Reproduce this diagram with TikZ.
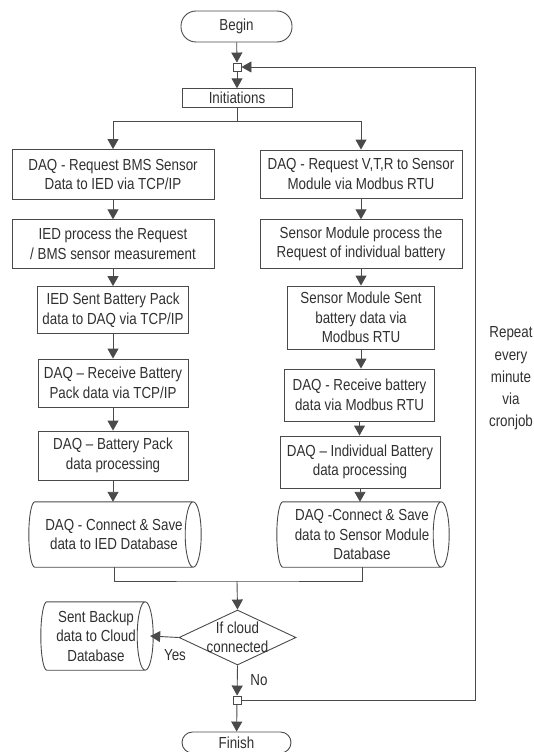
\documentclass[tikz,border=0pt]{standalone}
\usepackage{fontspec}
\setmainfont[FakeStretch=0.835]{Liberation Sans}
\usetikzlibrary{shapes.geometric,arrows.meta,calc}

\definecolor{txt}{HTML}{303030}
\definecolor{ln}{HTML}{4a4a4a}

% outline of a horizontal storage drum around a node
\newcommand\drumoutline[1]{%
  \draw[line] let \p1=(#1.north east), \p2=(#1.south east), \n1={(\y1-\y2)/2} in
    (#1.north west) -- (#1.north east)
    arc[start angle=90, end angle=-90, x radius=8pt, y radius=\n1]
    arc[start angle=-90, end angle=-270, x radius=8pt, y radius=\n1]
    (#1.south east) -- (#1.south west)
    arc[start angle=-90, end angle=-270, x radius=6pt, y radius=\n1];
}

\begin{document}
\begin{tikzpicture}[x=1pt,y=1pt,
  every node/.style={font=\fontsize{16}{19.5}\selectfont, text=txt},
  line/.style={draw=ln, line width=0.9pt},
  arr/.style={line, -{Triangle[length=10pt,width=11pt]}},
  proc/.style={draw=ln, line width=0.9pt, rectangle, align=center, inner sep=0pt},
  term/.style={proc, rounded corners=15pt},
  junc/.style={draw=ln, line width=0.9pt, fill=white, minimum size=8pt, inner sep=0pt},
  drum/.style={align=center, inner sep=0pt},
  decide/.style={draw=ln, line width=0.9pt, diamond, aspect=2.13, inner sep=0pt,
    minimum width=117pt, minimum height=55pt}
]
\useasboundingbox (0,0) rectangle (534,-752);

% start, junction, initialisation
\node[term, minimum width=111pt, minimum height=31pt] (begin) at (236.5,-26.5) {Begin};
\node[junc] (j1) at (237,-67) {};
\node[proc, minimum width=110pt, minimum height=18.5pt] (init) at (237,-98) {Initiations};

% left branch: BMS over TCP/IP
\node[proc, minimum width=202pt, minimum height=50pt] (l1) at (113,-174.5) {DAQ - Request BMS Sensor\\Data to IED via TCP/IP};
\node[proc, minimum width=202pt, minimum height=48.5pt] (l2) at (113,-244) {IED process the Request\\/ BMS sensor measurement};
\node[proc, minimum width=151pt, minimum height=47pt] (l3) at (113,-310) {IED Sent Battery Pack\\data to DAQ via TCP/IP};
\node[proc, minimum width=150pt, minimum height=48pt] (l4) at (113,-383) {DAQ -- Receive Battery\\Pack data via TCP/IP};
\node[proc, minimum width=150pt, minimum height=49pt] (l5) at (113,-455.5) {DAQ -- Battery Pack\\data processing};
\node[drum, minimum width=158pt, minimum height=65pt] (l6) at (114,-534.5) {DAQ - Connect \& Save\\data to IED Database};
\drumoutline{l6}

% right branch: sensor modules over Modbus RTU
\node[proc, minimum width=202pt, minimum height=48pt] (r1) at (361,-174) {DAQ - Request V,T,R to Sensor\\Module via Modbus RTU};
\node[proc, minimum width=202pt, minimum height=48.5pt] (r2) at (361,-244) {Sensor Module process the\\Request of individual battery};
\node[proc, minimum width=147pt, minimum height=63pt] (r3) at (361,-317.5) {Sensor Module Sent\\battery data via\\Modbus RTU};
\node[proc, minimum width=150pt, minimum height=52pt] (r4) at (359.5,-395) {DAQ - Receive battery\\data via Modbus RTU};
\node[proc, minimum width=160pt, minimum height=52pt] (r5) at (360,-462) {DAQ -- Individual Battery\\data processing};
\node[drum, minimum width=158pt, minimum height=65pt] (r6) at (362,-534.5) {DAQ -Connect \& Save\\data to Sensor Module\\Database};
\drumoutline{r6}

% cloud decision
\node[decide] (dec) at (237.5,-637.5) {};
\node[align=center, inner sep=0pt] (dectext) at (237.5,-637.5) {If cloud\\connected};
\node[drum, minimum width=98pt, minimum height=68pt] (cloud) at (96,-636) {Sent Backup\\data to Cloud\\Database};
\drumoutline{cloud}
\node (yes) at (175,-655) {Yes};
\node (no) at (259,-680) {No};

% end
\node[junc] (j2) at (237,-700) {};
\node[term, minimum width=109pt, minimum height=21pt, rounded corners=10.5pt] (finish) at (236.5,-742.5) {Finish};

% repeat note
\node[align=center, font=\fontsize{16}{22.2}\selectfont] (note) at (511,-378.5) {Repeat\\every\\minute\\via\\cronjob};

% connectors
\coordinate (split) at (237,-121);
\coordinate (merge) at (237,-581);
\coordinate (loop) at (475,-67);

\draw[arr] (begin) -- (j1);
\draw[arr] (j1) -- (init);
\draw[line] (init.south) -- (split);
\draw[arr] (split) -| (l1.north);
\draw[arr] (split) -| (r1.north);

\draw[arr] (l1.south) -- (l1.south |- l2.north);
\draw[arr] (l2.south) -- (l2.south |- l3.north);
\draw[arr] (l3.south) -- (l3.south |- l4.north);
\draw[arr] (l4.south) -- (l4.south |- l5.north);
\draw[arr] (l5.south) -- (l5.south |- l6.north);

\draw[arr] (r1.south) -- (r1.south |- r2.north);
\draw[arr] (r2.south) -- (r2.south |- r3.north);
\draw[arr] (r3.south) -- (r3.south |- r4.north);
\draw[arr] (r4.south) -- (r4.south |- r5.north);
\draw[arr] (r5.south) -- (r5.south |- r6.north);

\draw[line] (l6.south) |- (merge) -| (r6.south);
\draw[arr] (merge) -- (dec.north);
\draw[arr] (dec.west) -- ([xshift=5pt]cloud.east);
\draw[arr] (dec.south) -- (j2);
\draw[arr] (j2) -- (finish);
\draw[arr] (j2.east) -| (loop) -- (j1.east);
\end{tikzpicture}
\end{document}
